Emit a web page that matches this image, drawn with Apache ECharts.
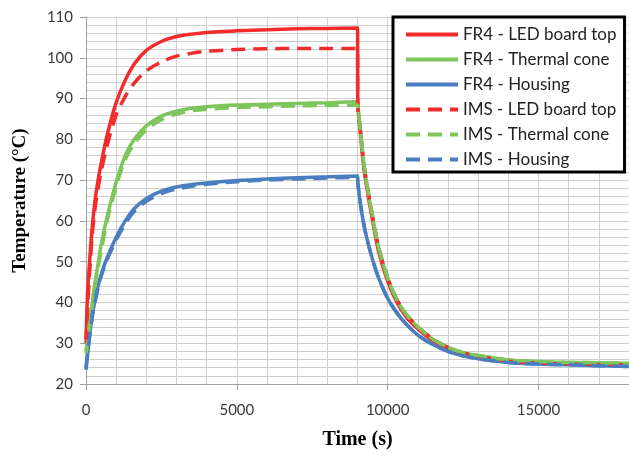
<!DOCTYPE html>
<html>
<head>
<meta charset="utf-8">
<script src="https://cdn.jsdelivr.net/npm/echarts@6/dist/echarts.min.js"></script>
<style>
html,body{margin:0;padding:0;background:#fff;}
#chart{width:629px;height:461px;}
</style>
</head>
<body>
<div id="chart"></div>
<script>
// Time (s)
const time = [0, 50, 100, 200, 300, 400, 500, 700, 1000, 1300, 1600, 2000, 2500, 3000, 3500, 4000, 5000, 6000, 7000, 8000, 9000,
  9010, 9100, 9200, 9300, 9500, 9700, 10000, 10300, 10600, 11000, 11500, 12000, 12500, 13000, 14000, 15000, 16000, 17000, 18000];

const fr4Led = [31, 42, 48, 58, 65, 70, 74, 81, 89, 94.5, 98.5, 101.8, 104, 105.2, 105.8, 106.2, 106.6, 106.9, 107.1, 107.2, 107.3,
  89, 81, 73.5, 68.5, 60, 52.5, 45.2, 40.1, 36.6, 33.5, 30.6, 28.7, 27.5, 26.8, 25.8, 25.3, 25.1, 25.0, 24.9];
const fr4Cone = [28, 31, 34, 39.5, 45, 49.5, 54, 61, 69.5, 76, 80, 83.3, 85.7, 86.9, 87.6, 88, 88.4, 88.6, 88.8, 89, 89.2,
  88.5, 82, 74.5, 69.5, 61, 53.5, 46, 40.8, 37.2, 34, 31, 29, 27.7, 27, 25.9, 25.5, 25.3, 25.2, 25.1];
const fr4Housing = [23.5, 27, 30.5, 36.5, 40.5, 44, 46.8, 51, 56, 60, 63, 65.5, 67.3, 68.3, 68.9, 69.3, 69.9, 70.3, 70.6, 70.8, 71,
  69.5, 64, 59.5, 56, 50.5, 46, 41, 37.5, 34.8, 32, 29.7, 28, 26.9, 26.2, 25.3, 24.9, 24.7, 24.5, 24.3];
const imsLed = [30, 38, 45, 56, 63, 68, 72, 78.5, 86, 90.5, 93.8, 96.8, 99, 100.4, 101.1, 101.6, 102, 102.2, 102.3, 102.3, 102.3,
  88.5, 82, 74.5, 69.5, 61, 53.5, 46, 40.8, 37.2, 34, 31, 29, 27.6, 26.8, 25.6, 25.1, 24.9, 24.8, 24.7];
const imsCone = [27.5, 30, 33, 38.5, 44, 48.5, 52.5, 60, 68.5, 75, 79, 82.3, 84.8, 86.2, 87, 87.4, 87.8, 88, 88.2, 88.3, 88.4,
  88, 82, 74.5, 69.5, 61, 53.5, 46, 40.8, 37.2, 34, 31, 29, 27.7, 27, 25.9, 25.5, 25.3, 25.2, 25.1];
const imsHousing = [24, 27.5, 30.5, 36, 40, 43.5, 46.3, 50.5, 55.3, 59.3, 62.3, 64.8, 66.7, 67.8, 68.5, 69, 69.6, 70, 70.3, 70.5, 70.7,
  69.3, 64, 59.5, 56, 50.5, 46, 41, 37.5, 34.8, 32, 29.7, 28, 26.9, 26.2, 25.3, 24.9, 24.7, 24.5, 24.3];

const seriesNames = ['FR4 - LED board top', 'FR4 - Thermal cone', 'FR4 - Housing',
  'IMS - LED board top', 'IMS - Thermal cone', 'IMS - Housing'];
const seriesValues = [fr4Led, fr4Cone, fr4Housing, imsLed, imsCone, imsHousing];
const colors = ['#F22C2C', '#7EC55B', '#4A7EC0', '#F22C2C', '#7EC55B', '#4A7EC0'];
const dashed = [false, false, false, true, true, true];

const chart = echarts.init(document.getElementById('chart'), null, {renderer: 'canvas'});
const gridColor = '#CFCFCF';
const axisColor = '#A0A0A0';
const labelFont = {fontFamily: 'Lato', fontSize: 15, color: '#3A3A3A'};

const series = seriesNames.map((name, i) => ({
  name: name,
  type: 'line',
  xAxisIndex: 0,
  yAxisIndex: 0,
  data: time.map((t, k) => [t, seriesValues[i][k]]),
  symbol: 'none',
  smooth: 0.3,
  lineStyle: {color: colors[i], width: 3.5, type: dashed[i] ? [14, 8] : 'solid'},
  itemStyle: {color: colors[i]},
  animation: false
}));

chart.setOption({
  animation: false,
  backgroundColor: '#fff',
  grid: {left: 86, right: 0, top: 17, bottom: 77},
  xAxis: [{
    type: 'value', min: 0, max: 18000, interval: 1000,
    axisLine: {show: true, lineStyle: {color: axisColor}},
    axisTick: {show: false},
    axisLabel: {show: false},
    splitLine: {show: true, lineStyle: {color: gridColor, width: 1}}
  }, {
    type: 'value', min: 0, max: 18000, interval: 5000, position: 'bottom',
    axisLine: {show: false},
    axisTick: {show: true, length: 6, lineStyle: {color: axisColor}},
    axisLabel: Object.assign({margin: 19, showMaxLabel: false, formatter: v => String(v)}, labelFont),
    splitLine: {show: false},
    name: 'Time (s)', nameLocation: 'middle', nameGap: 46,
    nameTextStyle: {fontFamily: 'Liberation Serif', fontWeight: 'bold', fontSize: 20, color: '#000'}
  }],
  yAxis: [{
    type: 'value', min: 20, max: 110, interval: 10,
    axisLine: {show: true, lineStyle: {color: axisColor}},
    axisTick: {show: true, length: 6, lineStyle: {color: axisColor}},
    axisLabel: Object.assign({margin: 13}, labelFont),
    splitLine: {show: true, lineStyle: {color: gridColor, width: 1}},
    minorTick: {show: false, splitNumber: 5},
    minorSplitLine: {show: true, lineStyle: {color: gridColor, width: 1}},
    name: 'Temperature (°C)', nameLocation: 'middle', nameGap: 56,
    nameTextStyle: {fontFamily: 'Liberation Serif', fontWeight: 'bold', fontSize: 19, color: '#000'}
  }],
  legend: {
    data: seriesNames,
    orient: 'vertical',
    left: 393, top: 17,
    backgroundColor: '#fff',
    borderColor: '#000', borderWidth: 3,
    padding: [9, 8, 4, 11],
    itemWidth: 52, itemHeight: 14, itemGap: 8,
    itemStyle: {opacity: 0},
    lineStyle: {width: 4},
    textStyle: {fontFamily: 'Lato', fontSize: 17, color: '#222', lineHeight: 16}
  },
  series: series
});
</script>
</body>
</html>
